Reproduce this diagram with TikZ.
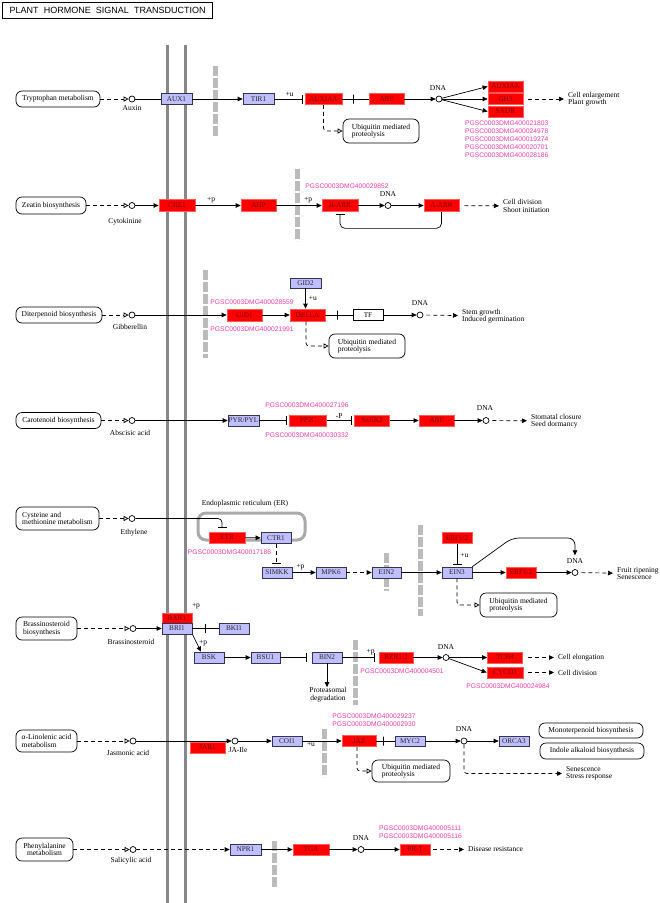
\documentclass[tikz,border=0pt]{standalone}
\usepackage{fontspec}
\setmainfont{Liberation Serif}
\newfontfamily\kSansFam{Liberation Sans}
\usetikzlibrary{arrows.meta}
\definecolor{kblue}{HTML}{BFBFFF}
\definecolor{kbord}{HTML}{333355}
\definecolor{kred}{HTML}{FF0000}
\definecolor{kredb}{HTML}{FF5A5A}
\definecolor{kredt}{HTML}{7A0000}
\definecolor{kpink}{HTML}{F03CA8}
\definecolor{kgray}{HTML}{BBBBBB}
\definecolor{kmemb}{HTML}{888888}
\definecolor{kER}{HTML}{AAAAAA}
\newcommand\kLab{\fontsize{7.5}{7.5}\selectfont}
\newcommand\kGene{\fontsize{7.2}{8}\selectfont}
\newcommand\kId{\kSansFam\fontsize{6.7}{8}\selectfont}
\newcommand\kTitle{\kSansFam\fontsize{9}{10}\selectfont}
\tikzset{
  gene/.style={rectangle, minimum width=31pt, minimum height=11pt, inner sep=0pt, font=\kGene, line width=0.7pt},
  gb/.style={gene, fill=kblue, draw=kbord, text=black!85},
  gr/.style={gene, fill=kred, draw=kredb, text=kredt},
  gw/.style={gene, fill=white, draw=black, text=black},
  mapn/.style={draw, rounded corners=6pt, line width=0.7pt, fill=white, inner sep=0pt, minimum height=16pt, font=\kLab, align=center},
  cpd/.style={circle, draw, fill=white, inner sep=0pt, minimum size=6pt, line width=0.7pt},
  lbl/.style={font=\kLab, inner sep=0pt},
  txt/.style={font=\kLab, inner sep=1pt, align=left, anchor=west},
  pid/.style={font=\kId, text=kpink, inner sep=0pt},
  ln/.style={line width=0.7pt},
  act/.style={ln, -{Triangle[length=5pt,width=4.5pt]}},
  inh/.style={ln, -{Bar[width=9pt]}, shorten >=2pt},
  dsh/.style={ln, dash pattern=on 4pt off 3pt},
  dact/.style={dsh, -{Triangle[length=5pt,width=4.5pt]}},
  oarr/.style={dsh, -{Triangle[open,length=5pt,width=5pt]}},
  barmk/.style={draw, rectangle, minimum width=0pt, minimum height=9pt, inner sep=0pt, line width=0.7pt},
  memb/.style={line width=3pt, draw=kmemb},
  gbar/.style={line width=5pt, draw=kgray, dash pattern=on 10pt off 2pt},
}
\begin{document}
\begin{tikzpicture}[x=1pt,y=-1pt]
\useasboundingbox (0,0) rectangle (660,903);
\fill[white] (0,0) rectangle (660,903);
% title
\node[draw, line width=1.2pt, minimum width=210pt, minimum height=16pt, inner sep=0pt, anchor=north west, font=\kTitle] (title) at (2,2) {\makebox[196pt][s]{PLANT \ HORMONE \ SIGNAL \ TRANSDUCTION}};
% membranes
\draw[memb] (167,45) -- (167,903);
\draw[memb] (185,45) -- (185,903);
% grey dashed bars
\draw[gbar] (215,66) -- (215,136);
\draw[gbar] (297,169) -- (297,241);
\draw[gbar] (205,270) -- (205,358);
\draw[gbar] (386,553) -- (386,591);
\draw[gbar] (420,525) -- (420,616);
\draw[gbar] (355,640) -- (355,705);
\draw[gbar] (324,729) -- (324,777);
\draw[gbar] (274,841) -- (274,888);

%%%%% Row 1: Auxin
\node[mapn, minimum width=84pt] (m1) at (58,99) {Tryptophan metabolism};
\node[cpd] (c1) at (132,99) {};
\node[lbl] (l1) at (132,108.5) {Auxin};
\node[gb] (aux1) at (176.5,99) {AUX1};
\node[gb] (tir1) at (258.5,99) {TIR1};
\node[gr, minimum width=37pt] (auxiaa) at (323.5,99) {AUXIAA};
\node[gr, minimum width=35pt] (arf) at (386.5,99) {ARF};
\node[cpd] (d1) at (439,99) {};
\node[lbl] (dl1) at (438,88) {DNA};
\node[gr, minimum width=35pt] (aux2) at (505.5,86.5) {AUXIAA};
\node[gr, minimum width=35pt] (gh3) at (505.5,99) {GH3};
\node[gr, minimum width=35pt] (saur) at (505.5,111.5) {SAUR};
\node[txt] (t1) at (567,99) {Cell enlargement\\Plant growth};
\node[pid, align=left, anchor=north west] (ids1) at (465,120.5) {PGSC0003DMG400021803\\PGSC0003DMG400024978\\PGSC0003DMG400019274\\PGSC0003DMG400020701\\PGSC0003DMG400028186};
\node[mapn, minimum width=76pt, minimum height=24pt, align=left] (u1) at (381,131) {Ubiquitin mediated\\proteolysis};
\draw[oarr] (m1) -- (c1);
\draw[ln] (c1) -- (aux1);
\draw[act] (aux1) -- (tir1);
\draw[inh] (tir1) -- node[lbl, above=2pt]{+u} (auxiaa);
\draw[ln] (auxiaa) -- node[barmk, pos=0.41]{} (arf);
\draw[act] (arf) -- (d1);
\draw[act] (d1) -- (aux2.west);
\draw[act] (d1) -- (gh3);
\draw[act] (d1) -- (saur.west);
\draw[dact, shorten <=5pt, shorten >=3pt] (gh3) -- (t1);
\draw[oarr, rounded corners=3pt] (auxiaa.south) |- (u1.west);

%%%%% Row 2: Cytokinine
\node[mapn, minimum width=70pt, minimum height=17pt] (m2) at (51,205.5) {Zeatin biosynthesis};
\node[cpd] (c2) at (132,205.5) {};
\node[lbl] (l2) at (125,222) {Cytokinine};
\node[gr, minimum width=36pt, minimum height=12pt] (cre1) at (177,205.5) {CRE1};
\node[gr, minimum width=35pt, minimum height=12pt] (ahp) at (258.5,205.5) {AHP};
\node[gr, minimum width=36pt, minimum height=12pt] (barr) at (340,205.5) {B-ARR};
\node[cpd] (d2) at (388,205.5) {};
\node[lbl] (dl2) at (388,194) {DNA};
\node[gr, minimum width=35pt, minimum height=12pt] (aarr) at (441.5,205.5) {A-ARR};
\node[txt] (t2) at (502,206) {Cell division\\Shoot initiation};
\node[pid] (id2) at (347,186) {PGSC0003DMG400029852};
\draw[oarr] (m2) -- (c2);
\draw[act] (c2) -- (cre1);
\draw[act] (cre1) -- node[lbl, above=2pt, pos=0.35]{+p} (ahp);
\draw[act] (ahp) -- node[lbl, above=2pt, pos=0.7]{+p} (barr);
\draw[act] (barr) -- (d2);
\draw[act] (d2) -- (aarr);
\draw[dact, shorten <=5pt, shorten >=3pt] (aarr) -- (t2);
\draw[inh, rounded corners=5pt] (aarr.south) -- ++(0,16.5) -| (barr.south);

%%%%% Row 3: Gibberellin
\node[mapn, minimum width=86pt] (m3) at (59,315) {Diterpenoid biosynthesis};
\node[cpd] (c3) at (132,315) {};
\node[lbl] (l3) at (130,327) {Gibberellin};
\node[gr, minimum width=35pt, minimum height=12pt] (gid1) at (244.5,315) {GID1};
\node[gr, minimum width=35pt, minimum height=12pt] (della) at (307.5,315) {DELLA};
\node[gb, minimum height=10pt] (gid2) at (305.5,283) {GID2};
\node[gw, minimum width=30pt] (tf) at (368,315) {TF};
\node[cpd] (d3) at (420,315) {};
\node[lbl] (dl3) at (420,303) {DNA};
\node[txt] (t3) at (461,316) {Stem growth\\Induced germination};
\node[pid] (id3a) at (252,302) {PGSC0003DMG400028559};
\node[pid] (id3b) at (252,329) {PGSC0003DMG400021991};
\node[mapn, minimum width=76pt, minimum height=24pt, align=left] (u2) at (367,346) {Ubiquitin mediated\\proteolysis};
\draw[oarr] (m3) -- (c3);
\draw[act] (c3) -- (gid1);
\draw[act] (gid1) -- (della);
\draw[act] (gid2.south) -- node[lbl, right=3pt]{+u} (gid2.south |- della.north);
\draw[ln] (della) -- node[barmk, pos=0.43]{} (tf);
\draw[act] (tf) -- (d3);
\draw[dact, shorten <=3pt, shorten >=3pt] (d3) -- (t3);
\draw[oarr, rounded corners=3pt] ([xshift=-1.5pt]della.south) |- (u2.west);

%%%%% Row 4: Abscisic acid
\node[mapn, minimum width=85pt] (m4) at (58.5,420.5) {Carotenoid biosynthesis};
\node[cpd] (c4) at (132,420.5) {};
\node[lbl] (l4) at (130,433) {Abscisic acid};
\node[gb] (pyr) at (243.5,420.5) {PYR/PYL};
\node[gr, minimum width=37pt] (pp2c) at (308,420.5) {PP2C};
\node[gr, minimum width=35pt] (snrk2) at (372,420.5) {SnRK2};
\node[gr, minimum width=35pt] (abf) at (436.5,420.5) {ABF};
\node[cpd] (d4) at (486,420.5) {};
\node[lbl] (dl4) at (485,408) {DNA};
\node[txt] (t4) at (530,421) {Stomatal closure\\Seed dormancy};
\node[pid] (id4a) at (307,405) {PGSC0003DMG400027196};
\node[pid] (id4b) at (307,435) {PGSC0003DMG400030332};
\draw[oarr] (m4) -- (c4);
\draw[act] (c4) -- (pyr);
\draw[inh] (pyr) -- (pp2c);
\draw[inh] (pp2c) -- node[lbl, above=2pt, pos=0.45]{-P} (snrk2);
\draw[act] (snrk2) -- (abf);
\draw[act] (abf) -- (d4);
\draw[dact, shorten <=3pt, shorten >=3pt] (d4) -- (t4);

%%%%% Row 5: Ethylene
\node[lbl] (erl) at (245,504) {Endoplasmic reticulum (ER)};
\node[draw=kER, line width=3pt, rounded corners=8pt, minimum width=107pt, minimum height=27pt, inner sep=0pt] (er) at (251.5,526.5) {};
\node[mapn, minimum width=83pt, minimum height=23pt, align=left] (m5) at (57.5,518.5) {Cysteine and\\methionine metabolism};
\node[cpd] (c5) at (132,518.5) {};
\node[lbl] (l5) at (134,533) {Ethylene};
\node[gr, minimum width=36pt] (etr) at (227,537.5) {ETR};
\node[gb, minimum width=30pt] (ctr1) at (276,538) {CTR1};
\node[pid] (id5) at (229.5,552) {PGSC0003DMG400017186};
\node[gb, minimum width=30pt] (simkk) at (277,572.5) {SIMKK};
\node[gb, minimum width=30pt] (mpk6) at (331,572.5) {MPK6};
\node[gb, minimum width=29pt] (ein2) at (386.5,572.5) {EIN2};
\node[gb, minimum width=30pt] (ein3) at (457,572.5) {EIN3};
\node[gr, minimum width=30pt] (ebf) at (457,538) {EBF1/2};
\node[gr, minimum width=30pt] (erf) at (521,572.5) {ERF1/2};
\node[cpd] (d5) at (575,572.5) {};
\node[lbl] (dl5) at (575,561) {DNA};
\node[txt] (t5) at (616,573.5) {Fruit ripening\\Senescence};
\node[mapn, minimum width=77pt, minimum height=24pt, align=left] (u3) at (518.5,605) {Ubiquitin mediated\\proteolysis};
\draw[oarr] (m5) -- (c5);
\draw[inh, rounded corners=4pt, shorten >=4pt] (c5) -| ([xshift=-5pt]etr.north);
\draw[act] (etr) -- (ctr1);
\draw[dsh, -{Bar[width=9pt]}, shorten >=3pt] (ctr1.south) -- (ctr1.south |- simkk.north);
\draw[act] (simkk) -- node[lbl, above=2pt, pos=0.35]{+p} (mpk6);
\draw[dact] (mpk6) -- (ein2);
\draw[act] (ein2) -- (ein3);
\draw[inh] (ebf) -- node[lbl, right=3pt]{+u} (ein3);
\draw[act] (ein3) -- (erf);
\draw[act] (erf) -- (d5);
\draw[dact, shorten <=3pt, shorten >=3pt] (d5) -- (t5);
\draw[act, rounded corners=7pt, shorten >=3pt] (ein3.north east) -- (512,538) -- (575,538) -- (dl5.north);
\draw[oarr, rounded corners=3pt] (ein3.south) |- (u3.west);

%%%%% Row 6: Brassinosteroid
\node[mapn, minimum width=61pt, minimum height=23pt, align=left] (m6) at (46.5,628.5) {Brassinosteroid\\biosynthesis};
\node[cpd] (c6) at (133,628.5) {};
\node[lbl] (l6) at (131,642) {Brassinosteroid};
\node[gr, minimum width=30pt, minimum height=10pt] (bak1) at (177,618) {BAK1};
\node[gb, minimum width=30pt] (bri1) at (177,628.5) {BRI1};
\node[lbl] (p6a) at (196,606) {+p};
\node[gb, minimum width=30pt] (bki1) at (234,628.5) {BKI1};
\node[gb, minimum width=30pt] (bsk) at (209,657.5) {BSK};
\node[gb, minimum width=29pt] (bsu1) at (265.5,657.5) {BSU1};
\node[gb, minimum width=30pt] (bin2) at (327,657.5) {BIN2};
\node[gr, minimum width=34pt] (bzr) at (396,657.5) {BZR1/2};
\node[cpd] (d6) at (446,657.5) {};
\node[lbl] (dl6) at (446,647) {DNA};
\node[gr, minimum width=35pt] (tch4) at (505,657.5) {TCH4};
\node[gr, minimum width=36pt] (cycd3) at (505,672.5) {CYCD3};
\node[txt] (t6a) at (557,657.5) {Cell elongation};
\node[txt] (t6b) at (557,672.5) {Cell division};
\node[lbl, align=center] (prot) at (328,694.5) {Proteasomal\\degradation};
\node[pid] (id6a) at (402,671) {PGSC0003DMG400004501};
\node[pid] (id6b) at (508,686) {PGSC0003DMG400024984};
\draw[oarr] (m6) -- (c6);
\draw[act] (c6) -- (bri1);
\draw[ln] (bri1) -- node[barmk, pos=0.48]{} (bki1);
\draw[act] (bri1.south east) -- node[lbl, right=2pt]{+p} ([xshift=-8pt]bsk.north);
\draw[act] (bsk) -- (bsu1);
\draw[inh, shorten >=5pt] (bsu1) -- (bin2);
\draw[act] (bin2.south) -- (bin2.south |- prot.north);
\draw[inh, shorten >=4pt] (bin2) -- node[lbl, above=2pt, pos=0.78]{+p} (bzr);
\draw[act] (bzr) -- (d6);
\draw[act] (d6) -- (tch4);
\draw[act] (d6) -- (cycd3.west);
\draw[dact, shorten <=5pt, shorten >=3pt] (tch4) -- (t6a);
\draw[dact, shorten <=5pt, shorten >=3pt] (cycd3) -- (t6b);

%%%%% Row 7: Jasmonic acid
\node[mapn, minimum width=61pt, minimum height=22pt, align=left] (m7) at (46.5,741) {α-Linolenic acid\\metabolism};
\node[cpd] (c7) at (133,741) {};
\node[lbl] (l7) at (128,753) {Jasmonic acid};
\node[cpd] (jaile) at (235,741) {};
\node[lbl] (lja) at (238,749.5) {JA-Ile};
\node[gr, minimum width=35pt] (jar1) at (207.5,747.5) {JAR1};
\node[gb, minimum width=30pt, minimum height=10pt] (coi1) at (287,741) {COI1};
\node[lbl] (u7) at (311,744) {+u};
\node[gr, minimum width=34pt] (jaz) at (359,741) {JAZ};
\node[gb, minimum width=30pt, minimum height=10pt] (myc2) at (410,741) {MYC2};
\node[cpd] (d7) at (464,741) {};
\node[lbl] (dl7) at (464,729) {DNA};
\node[gb, minimum width=30pt, minimum height=10pt] (orca3) at (514,741) {ORCA3};
\node[mapn, minimum width=104pt, minimum height=15pt] (mono) at (591,730.5) {Monoterpenoid biosynthesis};
\node[mapn, minimum width=104pt, minimum height=16pt] (indole) at (592,751) {Indole alkaloid biosynthesis};
\node[txt] (t7) at (565,773.5) {Senescence\\Stress response};
\node[mapn, minimum width=78pt, minimum height=22pt, align=left] (u4) at (411,771) {Ubiquitin mediated\\proteolysis};
\node[pid, align=left] (id7) at (374,720.5) {PGSC0003DMG400029237\\PGSC0003DMG400002930};
\draw[oarr] (m7) -- (c7);
\draw[act] (c7) -- (jaile);
\draw[act] (jaile) -- (coi1);
\draw[act] (coi1) -- (jaz);
\draw[ln] (jaz) -- node[barmk, pos=0.37]{} (myc2);
\draw[act] (myc2) -- (d7);
\draw[act] (d7) -- (orca3);
\draw[dact, rounded corners=3pt, shorten >=3pt] (d7.south) |- (t7.west);
\draw[oarr, rounded corners=3pt] ([xshift=-2pt]jaz.south) |- (u4.west);

%%%%% Row 8: Salicylic acid
\node[mapn, minimum width=57pt, minimum height=23pt] (m8) at (44.5,849.5) {Phenylalanine\\metabolism};
\node[cpd] (c8) at (133,849.5) {};
\node[lbl] (l8) at (131,861) {Salicylic acid};
\node[gb] (npr1) at (245.5,849.5) {NPR1};
\node[gr, minimum width=36pt] (tga) at (311,849.5) {TGA};
\node[cpd] (d8) at (361,849.5) {};
\node[lbl] (dl8) at (361,838) {DNA};
\node[gr, minimum width=30pt] (pr1) at (415,849.5) {PR-1};
\node[txt] (t8) at (467,849.5) {Disease resistance};
\node[pid, align=left] (id8) at (420.5,832.5) {PGSC0003DMG400005111\\PGSC0003DMG400005116};
\draw[oarr] (m8) -- (c8);
\draw[dact] (c8) -- (npr1);
\draw[act] (npr1) -- (tga);
\draw[act] (tga) -- (d8);
\draw[act] (d8) -- (pr1);
\draw[dact, shorten <=3pt, shorten >=3pt] (pr1) -- (t8);
\end{tikzpicture}
\end{document}
